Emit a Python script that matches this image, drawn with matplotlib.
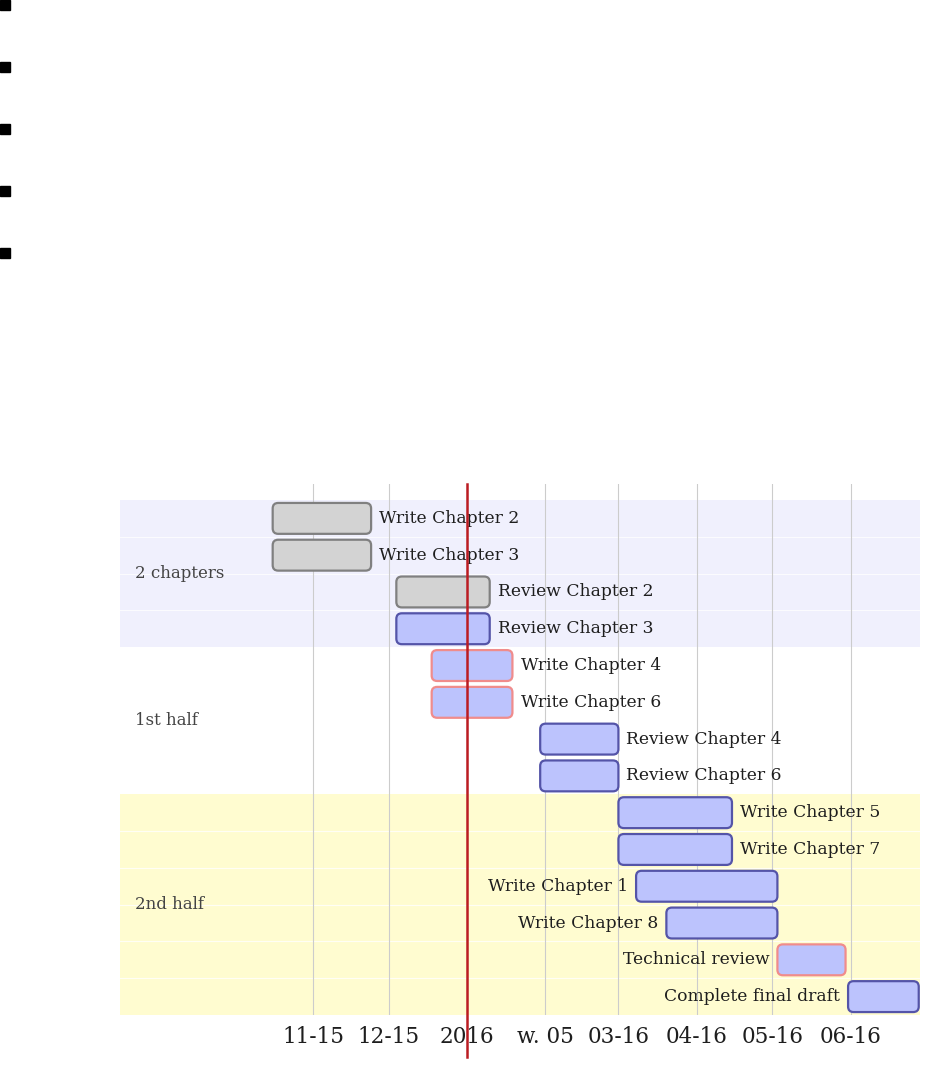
import matplotlib
matplotlib.use("Agg")
import matplotlib.pyplot as plt
import matplotlib.dates as mdates
from matplotlib.patches import FancyBboxPatch, Rectangle
from datetime import datetime

plt.rcParams['font.family'] = ['DejaVu Serif']

# data
tasks = ["Write Chapter 2", "Write Chapter 3", "Review Chapter 2", "Review Chapter 3",
         "Write Chapter 4", "Write Chapter 6", "Review Chapter 4", "Review Chapter 6",
         "Write Chapter 5", "Write Chapter 7", "Write Chapter 1", "Write Chapter 8",
         "Technical review", "Complete final draft"]
starts = ["2015-10-16", "2015-10-16", "2015-12-04", "2015-12-04",
          "2015-12-18", "2015-12-18", "2016-01-30", "2016-01-30",
          "2016-03-01", "2016-03-01", "2016-03-08", "2016-03-20",
          "2016-05-03", "2016-05-31"]
ends = ["2015-11-24", "2015-11-24", "2016-01-10", "2016-01-10",
        "2016-01-19", "2016-01-19", "2016-03-01", "2016-03-01",
        "2016-04-15", "2016-04-15", "2016-05-03", "2016-05-03",
        "2016-05-30", "2016-06-28"]
status = ["done", "done", "done", "ok",
          "late", "late", "ok", "ok",
          "ok", "ok", "ok", "ok",
          "late", "ok"]
label_left = [False] * 10 + [True] * 4

groups = ["2 chapters", "1st half", "2nd half"]
group_rows = [(0, 4), (4, 8), (8, 14)]
group_colors = ["#f0f0fd", "#ffffff", "#fffcd0"]

tick_dates = ["2015-11-01", "2015-12-01", "2016-01-01", "2016-02-01",
              "2016-03-01", "2016-04-01", "2016-05-01", "2016-06-01"]
tick_labels = ["11-15", "12-15", "2016", "w. 05", "03-16", "04-16", "05-16", "06-16"]
today = "2016-01-01"

face = {"done": "#d3d3d3", "ok": "#bcc3fd", "late": "#bcc3fd"}
edge = {"done": "#808080", "ok": "#5454a8", "late": "#f08c8c"}

def d(s):
    return mdates.date2num(datetime.strptime(s, "%Y-%m-%d"))

fig = plt.figure(figsize=(9.44, 10.75), dpi=100)

# stray bullets at top left
for k in range(5):
    y = 1075 - 62 * k - 10
    fig.add_artist(Rectangle((0, y / 1075), 10 / 944, 10 / 1075,
                             transform=fig.transFigure, color="black"))

ax = fig.add_axes([120 / 944, 1 - 1015 / 1075, 800 / 944, 531 / 1075])
x0 = mdates.date2num(datetime(2015, 8, 16, 12))
x1 = mdates.date2num(datetime(2016, 6, 28, 12))
ax.set_xlim(x0, x1)
ax.set_ylim(14, -0.435)

for (r0, r1), c, name in zip(group_rows, group_colors, groups):
    ax.axhspan(r0, r1, color=c, zorder=0, lw=0)
    ax.text(0.019, (r0 + r1) / 2, name, transform=ax.get_yaxis_transform(),
            ha="left", va="center", fontsize=12, color="#444444")
    for r in range(r0 + 1, r1):
        ax.axhline(r, color="white", lw=0.8, alpha=0.8, zorder=0.5)

for t in tick_dates:
    ax.axvline(d(t), color="#cccccc", lw=0.8, zorder=1)

h = 0.84
for i, name in enumerate(tasks):
    s, e = d(starts[i]), d(ends[i])
    box = FancyBboxPatch((s, i + 0.5 - h / 2), e - s, h,
                         boxstyle="round,pad=0,rounding_size=2.2",
                         mutation_aspect=0.068,
                         facecolor=face[status[i]], edgecolor=edge[status[i]],
                         lw=1.6, zorder=3)
    ax.add_patch(box)
    if label_left[i]:
        ax.text(s - 3.2, i + 0.5, name, ha="right", va="center", fontsize=12.3,
                color="#1e1e1e", zorder=4)
    else:
        ax.text(e + 3.2, i + 0.5, name, ha="left", va="center", fontsize=12.3,
                color="#1e1e1e", zorder=4)

# today line
ax.plot([d(today), d(today)], [1.0, -0.08], transform=ax.get_xaxis_transform(),
        color="#bb1c22", lw=1.8, clip_on=False, zorder=6)

ax.set_xticks([d(t) for t in tick_dates])
ax.set_xticklabels(tick_labels, fontsize=15.5, color="#1e1e1e")
ax.tick_params(axis="x", length=0, pad=8)
ax.set_yticks([])
for sp in ax.spines.values():
    sp.set_visible(False)

fig.savefig("out.png", dpi=100)
